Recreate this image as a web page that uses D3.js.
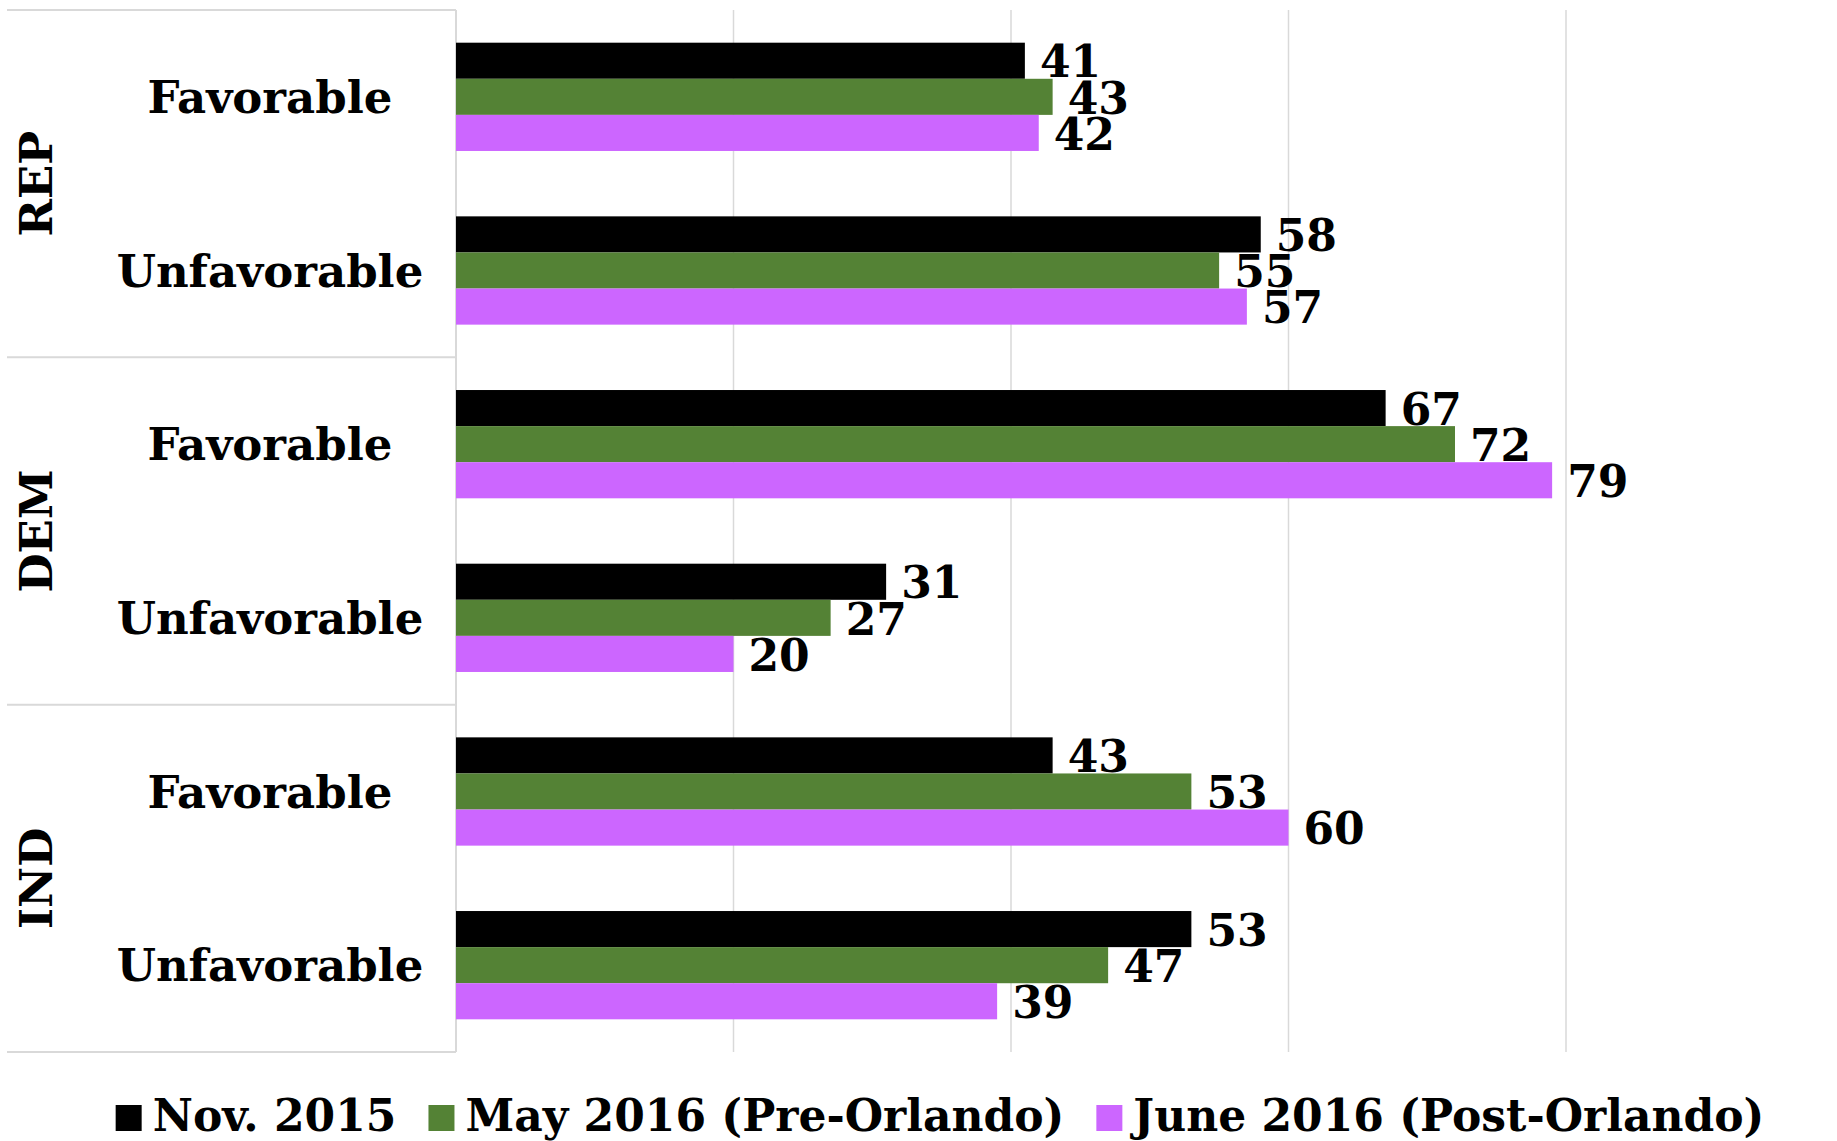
<!DOCTYPE html>
<html>
<head>
<meta charset="utf-8">
<script src="https://cdn.jsdelivr.net/npm/d3@7"></script>
<style>
  html, body { margin: 0; padding: 0; background: #fff; }
  svg { display: block; }
  text { font-family: "DejaVu Serif", serif; font-weight: bold; fill: #000; }
</style>
</head>
<body>
<svg id="chart" width="1837" height="1141"></svg>
<script>
// ---- Data ----
const groups = ["REP", "DEM", "IND"];
const responses = ["Favorable", "Unfavorable"];
const seriesNames = ["Nov. 2015", "May 2016 (Pre-Orlando)", "June 2016 (Post-Orlando)"];
const seriesColors = ["#000000", "#548235", "#CC66FF"];
// row order: REP Fav, REP Unfav, DEM Fav, DEM Unfav, IND Fav, IND Unfav
const nov2015  = [41, 58, 67, 31, 43, 53];
const may2016  = [43, 55, 72, 27, 53, 47];
const june2016 = [42, 57, 79, 20, 60, 39];
const xTicks = [0, 20, 40, 60, 80];

// ---- Layout ----
const W = 1837, H = 1141;
const plot = { left: 456, right: 1566, top: 10, bottom: 1052 };
const labelLeft = 7;
const gridColor = "#d9d9d9";

const svg = d3.select("#chart");

const rows = [];
groups.forEach(g => responses.forEach(r => rows.push({ group: g, resp: r, key: g + "|" + r })));
const seriesData = [nov2015, may2016, june2016];

const x = d3.scaleLinear().domain([0, 80]).range([plot.left, plot.right]);
const y = d3.scaleBand().domain(rows.map(d => d.key))
  .range([plot.top, plot.bottom]).paddingInner(0.3765).paddingOuter(0.18825);
const ySub = d3.scaleBand().domain(seriesNames).range([0, y.bandwidth()]);
const step = y.step();

// ---- Gridlines ----
svg.append("g").selectAll("line").data(xTicks.slice(1)).join("line")
  .attr("x1", d => x(d)).attr("x2", d => x(d))
  .attr("y1", plot.top).attr("y2", plot.bottom)
  .attr("stroke", gridColor).attr("stroke-width", 1.5);

// ---- Category axis frame (left) ----
const frame = svg.append("g");
frame.append("line").attr("x1", x(0)).attr("x2", x(0))
  .attr("y1", plot.top).attr("y2", plot.bottom)
  .attr("stroke", gridColor).attr("stroke-width", 2);
const dividers = [plot.top].concat(groups.map((g, i) => plot.top + (i + 1) * step * responses.length));
frame.selectAll("line.div").data(dividers).join("line").attr("class", "div")
  .attr("x1", labelLeft).attr("x2", x(0))
  .attr("y1", d => d).attr("y2", d => d)
  .attr("stroke", gridColor).attr("stroke-width", 2);

// ---- Bars ----
const barG = svg.append("g");
seriesNames.forEach((s, si) => {
  barG.append("g").selectAll("rect").data(rows.map((r, i) => ({ r, v: seriesData[si][i] }))).join("rect")
    .attr("x", x(0))
    .attr("y", d => y(d.r.key) + ySub(s))
    .attr("width", d => x(d.v) - x(0))
    .attr("height", ySub.bandwidth())
    .attr("fill", seriesColors[si]);
});

// ---- Value labels ----
const labG = svg.append("g");
seriesNames.forEach((s, si) => {
  labG.append("g").selectAll("text").data(rows.map((r, i) => ({ r, v: seriesData[si][i] }))).join("text")
    .attr("x", d => x(d.v) + 15)
    .attr("y", d => y(d.r.key) + ySub(s) + ySub.bandwidth() / 2)
    .attr("dy", "0.38em")
    .attr("font-size", 44)
    .text(d => d.v);
});

// ---- Response labels ----
svg.append("g").selectAll("text").data(rows).join("text")
  .attr("x", 270)
  .attr("y", d => y(d.key) + y.bandwidth() / 2)
  .attr("dy", "0.36em")
  .attr("text-anchor", "middle")
  .attr("font-size", 45)
  .text(d => d.resp);

// ---- Group labels (rotated) ----
svg.append("g").selectAll("text").data(groups).join("text")
  .attr("transform", (g, i) => {
    const cy = plot.top + (i + 0.5) * step * responses.length;
    return `translate(36,${cy}) rotate(-90)`;
  })
  .attr("dy", "0.36em")
  .attr("text-anchor", "middle")
  .attr("font-size", 45)
  .text(d => d);

// ---- Legend ----
const leg = svg.append("g");
const sq = 26, gapText = 11, gapItem = 32, legFont = 44, legBaseline = 1131;
const items = seriesNames.map((s, i) => {
  const g = leg.append("g");
  g.append("rect").attr("x", 0).attr("y", legBaseline - sq).attr("width", sq).attr("height", sq).attr("fill", seriesColors[i]);
  const t = g.append("text").attr("x", sq + gapText).attr("y", legBaseline).attr("font-size", legFont).text(s);
  return { g, w: sq + gapText + t.node().getComputedTextLength() };
});
const totalW = d3.sum(items, d => d.w) + gapItem * (items.length - 1);
let cx = 940 - totalW / 2;
items.forEach(it => { it.g.attr("transform", `translate(${cx},0)`); cx += it.w + gapItem; });
</script>
</body>
</html>
